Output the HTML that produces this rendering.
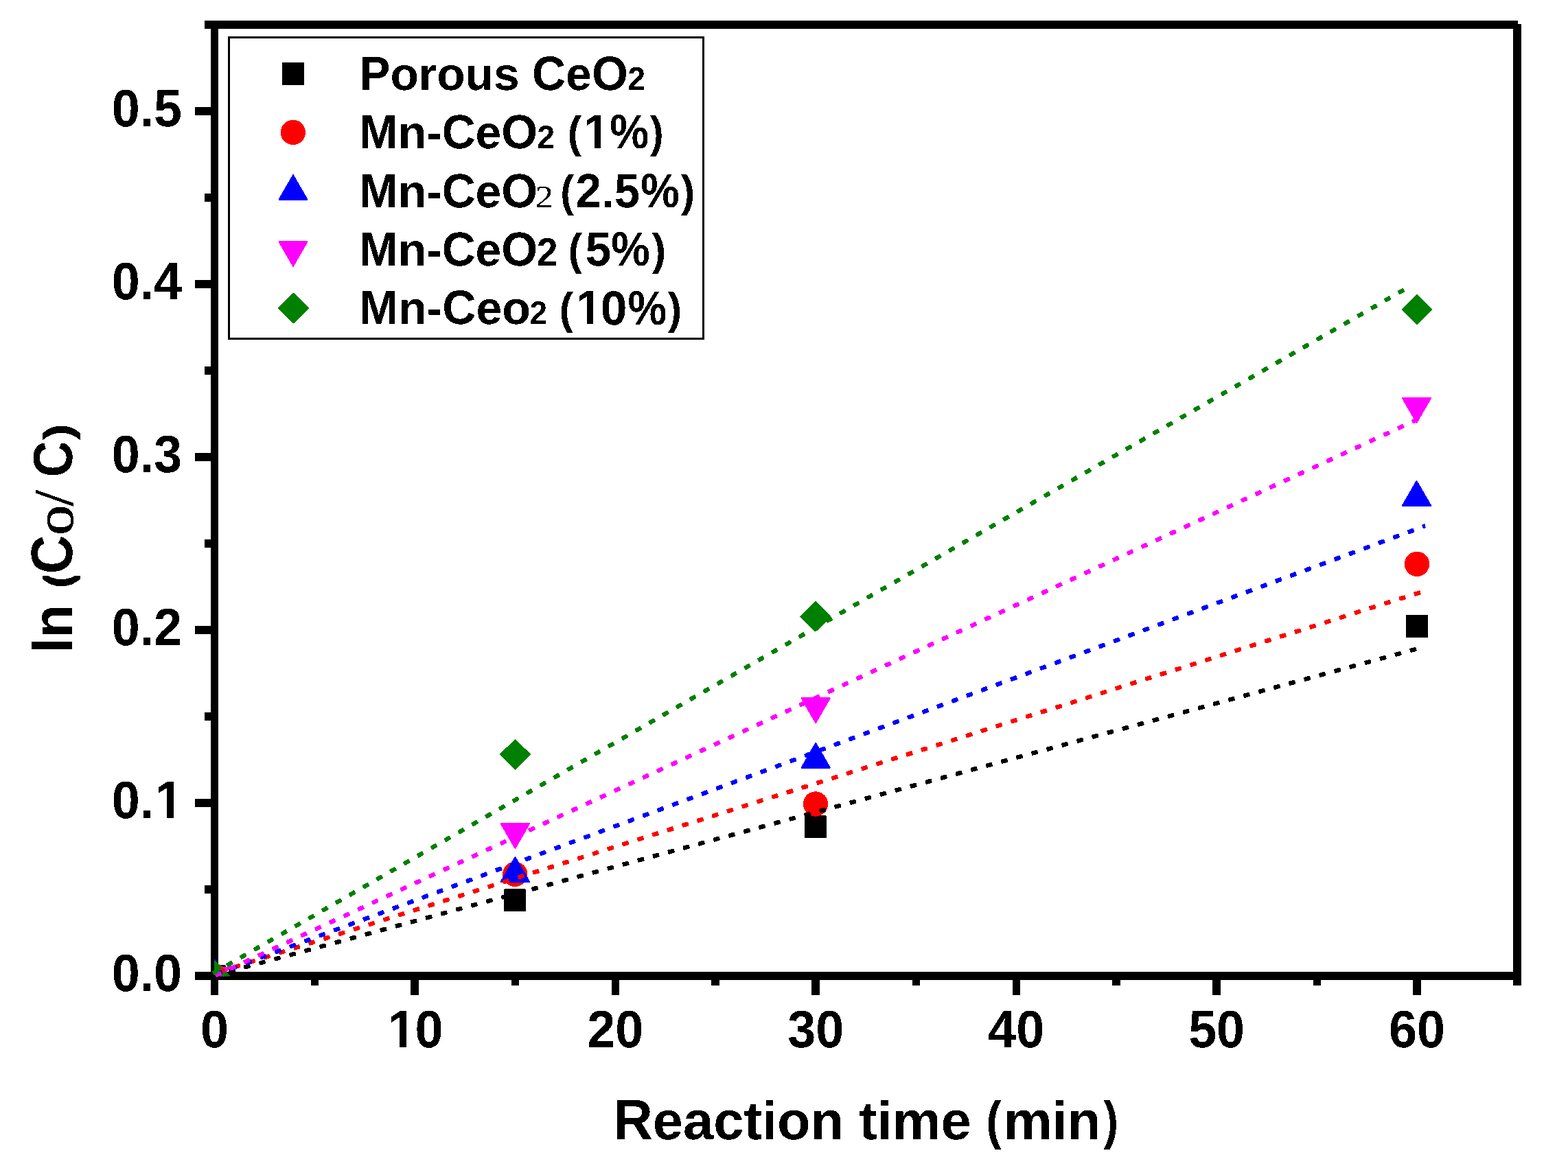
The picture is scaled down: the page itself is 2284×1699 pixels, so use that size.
<!DOCTYPE html>
<html lang="en"><head><meta charset="utf-8"><title>ln (Co/ C) versus Reaction time (min)</title>
<style>html,body{margin:0;padding:0;background:#fff;}body{width:2284px;height:1699px;overflow:hidden;}svg{display:block;}text{font-family:"Liberation Sans", Arial, Helvetica, sans-serif;font-weight:bold;fill:#000;font-kerning:none;font-variant-ligatures:none;text-rendering:geometricPrecision;white-space:pre;}</style>
</head><body>
<svg width="2284" height="1699" viewBox="0 0 2284 1699" role="img" aria-label="Kinetics plot: ln (Co/ C) versus Reaction time (min)">
<defs>
<clipPath id="plotclip"><rect x="312" y="36" width="1897.5" height="1386.6"/></clipPath>
<filter id="bin" x="0" y="0" width="2284" height="1699" filterUnits="userSpaceOnUse" color-interpolation-filters="sRGB"><feComponentTransfer><feFuncA type="discrete" tableValues="0 1"/></feComponentTransfer></filter>
</defs>
<rect x="0" y="0" width="2284" height="1699" fill="#fff"/>
<g shape-rendering="crispEdges">
<rect x="298" y="30" width="1913" height="12" fill="#000"/>
<rect x="307" y="30" width="11" height="1420" fill="#000"/>
<rect x="284" y="1416" width="1932" height="12" fill="#000"/>
<rect x="2204" y="35" width="12" height="1401" fill="#000"/>
<rect x="284" y="1416" width="24" height="12" fill="#000"/>
<rect x="284" y="1164" width="24" height="12" fill="#000"/>
<rect x="284" y="912" width="24" height="12" fill="#000"/>
<rect x="284" y="660" width="24" height="12" fill="#000"/>
<rect x="284" y="408" width="24" height="12" fill="#000"/>
<rect x="284" y="156" width="24" height="12" fill="#000"/>
<rect x="298" y="1290" width="10" height="12" fill="#000"/>
<rect x="298" y="1038" width="10" height="12" fill="#000"/>
<rect x="298" y="786" width="10" height="12" fill="#000"/>
<rect x="298" y="534" width="10" height="12" fill="#000"/>
<rect x="298" y="282" width="10" height="12" fill="#000"/>
<rect x="298" y="30" width="10" height="12" fill="#000"/>
<rect x="453" y="1427" width="11" height="9" fill="#000"/>
<rect x="598" y="1427" width="12" height="23" fill="#000"/>
<rect x="745" y="1427" width="11" height="9" fill="#000"/>
<rect x="891" y="1427" width="11" height="23" fill="#000"/>
<rect x="1036" y="1427" width="12" height="9" fill="#000"/>
<rect x="1182" y="1427" width="12" height="23" fill="#000"/>
<rect x="1329" y="1427" width="11" height="9" fill="#000"/>
<rect x="1475" y="1427" width="11" height="23" fill="#000"/>
<rect x="1620" y="1427" width="12" height="9" fill="#000"/>
<rect x="1766" y="1427" width="12" height="23" fill="#000"/>
<rect x="1913" y="1427" width="11" height="9" fill="#000"/>
<rect x="2058" y="1427" width="12" height="23" fill="#000"/>
</g>
<g shape-rendering="crispEdges">
<g clip-path="url(#plotclip)">
<rect x="296.5" y="1405.5" width="32" height="33" rx="1.5" fill="#000000"/>
<rect x="734.1" y="1295.4" width="32" height="33" rx="1.5" fill="#000000"/>
<rect x="1172" y="1188.3" width="32" height="33" rx="1.5" fill="#000000"/>
<rect x="2048" y="895.9" width="32" height="33" rx="1.5" fill="#000000"/>
<circle cx="312.5" cy="1422" r="18.2" fill="#ff0000"/>
<circle cx="750.2" cy="1273.8" r="18.2" fill="#ff0000"/>
<circle cx="1188" cy="1171.5" r="18.2" fill="#ff0000"/>
<circle cx="2064" cy="821.9" r="18.2" fill="#ff0000"/>
<path d="M312.5 1397.9L333.1 1433.6L291.9 1433.6Z" fill="#0000ff" stroke="#0000ff" stroke-width="2" stroke-linejoin="round"/>
<path d="M750.4 1249L771 1284.7L729.8 1284.7Z" fill="#0000ff" stroke="#0000ff" stroke-width="2" stroke-linejoin="round"/>
<path d="M1188.2 1082.9L1208.8 1118.6L1167.6 1118.6Z" fill="#0000ff" stroke="#0000ff" stroke-width="2" stroke-linejoin="round"/>
<path d="M2063.5 701L2084.1 736.7L2042.9 736.7Z" fill="#0000ff" stroke="#0000ff" stroke-width="2" stroke-linejoin="round"/>
<path d="M312.5 1446.1L333.1 1410.4L291.9 1410.4Z" fill="#ff00ff" stroke="#ff00ff" stroke-width="2" stroke-linejoin="round"/>
<path d="M750.4 1236L771 1200.3L729.8 1200.3Z" fill="#ff00ff" stroke="#ff00ff" stroke-width="2" stroke-linejoin="round"/>
<path d="M1188.2 1053.1L1208.8 1017.4L1167.6 1017.4Z" fill="#ff00ff" stroke="#ff00ff" stroke-width="2" stroke-linejoin="round"/>
<path d="M2063.5 615.8L2084.1 580.1L2042.9 580.1Z" fill="#ff00ff" stroke="#ff00ff" stroke-width="2" stroke-linejoin="round"/>
<path d="M312.5 1400.8L334 1422L312.5 1443.2L291 1422Z" fill="#008000" stroke="#008000" stroke-width="2" stroke-linejoin="round"/>
<path d="M750.5 1078.1L772 1099.3L750.5 1120.5L729 1099.3Z" fill="#008000" stroke="#008000" stroke-width="2" stroke-linejoin="round"/>
<path d="M1188 877.2L1209.5 898.4L1188 919.6L1166.5 898.4Z" fill="#008000" stroke="#008000" stroke-width="2" stroke-linejoin="round"/>
<path d="M2064.1 429.8L2085.6 451L2064.1 472.2L2042.6 451Z" fill="#008000" stroke="#008000" stroke-width="2" stroke-linejoin="round"/>
</g>
<line x1="312.60" y1="1421.36" x2="2061.70" y2="946.03" stroke="#000000" stroke-width="6.4" stroke-dasharray="6.600 16.260"/>
<line x1="311.15" y1="1421.75" x2="2063.15" y2="945.64" stroke="#000000" stroke-width="3.4" stroke-dasharray="9.600 13.260"/>
<line x1="313.04" y1="1423.00" x2="2062.15" y2="947.68" stroke="#000000" stroke-width="3" stroke-dasharray="6.600 16.260" stroke-linecap="round"/>
<line x1="312.15" y1="1419.71" x2="2061.26" y2="944.39" stroke="#000000" stroke-width="3" stroke-dasharray="6.600 16.260" stroke-linecap="round"/>
<line x1="320.39" y1="1415.87" x2="2067.64" y2="863.57" stroke="#ff0000" stroke-width="6.4" stroke-dasharray="6.600 16.223"/>
<line x1="318.96" y1="1416.33" x2="2069.07" y2="863.11" stroke="#ff0000" stroke-width="3.4" stroke-dasharray="9.600 13.223"/>
<line x1="320.90" y1="1417.49" x2="2068.16" y2="865.19" stroke="#ff0000" stroke-width="3" stroke-dasharray="6.600 16.223" stroke-linecap="round"/>
<line x1="319.88" y1="1414.25" x2="2067.13" y2="861.95" stroke="#ff0000" stroke-width="3" stroke-dasharray="6.600 16.223" stroke-linecap="round"/>
<line x1="316.11" y1="1418.99" x2="2076.00" y2="766.25" stroke="#0000ff" stroke-width="6.4" stroke-dasharray="6.600 16.259"/>
<line x1="314.70" y1="1419.52" x2="2076.00" y2="766.25" stroke="#0000ff" stroke-width="3.4" stroke-dasharray="9.600 13.259"/>
<line x1="316.70" y1="1420.59" x2="2074.59" y2="768.59" stroke="#0000ff" stroke-width="3" stroke-dasharray="6.600 16.259" stroke-linecap="round"/>
<line x1="315.52" y1="1417.40" x2="2074.59" y2="764.96" stroke="#0000ff" stroke-width="3" stroke-dasharray="6.600 16.259" stroke-linecap="round"/>
<line x1="315.05" y1="1420.89" x2="2064.21" y2="611.38" stroke="#ff00ff" stroke-width="6.4" stroke-dasharray="6.600 16.267"/>
<line x1="313.69" y1="1421.52" x2="2065.57" y2="610.75" stroke="#ff00ff" stroke-width="3.4" stroke-dasharray="9.600 13.267"/>
<line x1="315.77" y1="1422.43" x2="2064.92" y2="612.92" stroke="#ff00ff" stroke-width="3" stroke-dasharray="6.600 16.267" stroke-linecap="round"/>
<line x1="314.34" y1="1419.35" x2="2063.50" y2="609.84" stroke="#ff00ff" stroke-width="3" stroke-dasharray="6.600 16.267" stroke-linecap="round"/>
<line x1="311.69" y1="1417.64" x2="2043.93" y2="422.82" stroke="#008000" stroke-width="6.4" stroke-dasharray="6.600 16.285"/>
<line x1="310.39" y1="1418.39" x2="2045.23" y2="422.07" stroke="#008000" stroke-width="3.4" stroke-dasharray="9.600 13.285"/>
<line x1="312.54" y1="1419.11" x2="2044.78" y2="424.29" stroke="#008000" stroke-width="3" stroke-dasharray="6.600 16.285" stroke-linecap="round"/>
<line x1="310.85" y1="1416.17" x2="2043.09" y2="421.34" stroke="#008000" stroke-width="3" stroke-dasharray="6.600 16.285" stroke-linecap="round"/>
</g>
<g filter="url(#bin)">
<text><tspan x="162.65" y="1444.35" font-size="76.65" textLength="102.45" lengthAdjust="spacingAndGlyphs">0.0</tspan></text>
<clipPath id="tc1"><path clip-rule="evenodd" d="M0 0H2284V1699H0ZM228.65 1182.93H242.66V1194.35H228.65ZM252.88 1182.93H265.95V1194.35H252.88Z"/></clipPath>
<g clip-path="url(#tc1)"><text><tspan x="162.65" y="1192.35" font-size="76.65" textLength="61.46" lengthAdjust="spacingAndGlyphs">0.</tspan><tspan x="225.51" y="1192.35" font-size="76.65" textLength="40.99" lengthAdjust="spacingAndGlyphs">1</tspan></text></g>
<text><tspan x="162.65" y="940.35" font-size="76.65" textLength="102.45" lengthAdjust="spacingAndGlyphs">0.2</tspan></text>
<text><tspan x="162.65" y="688.35" font-size="76.65" textLength="102.45" lengthAdjust="spacingAndGlyphs">0.3</tspan></text>
<text><tspan x="162.65" y="436.35" font-size="76.65" textLength="102.45" lengthAdjust="spacingAndGlyphs">0.4</tspan></text>
<text><tspan x="162.65" y="184.35" font-size="76.65" textLength="102.45" lengthAdjust="spacingAndGlyphs">0.5</tspan></text>
<text><tspan x="292.01" y="1526.15" font-size="76.65" textLength="40.99" lengthAdjust="spacingAndGlyphs">0</tspan></text>
<clipPath id="tc2"><path clip-rule="evenodd" d="M0 0H2284V1699H0ZM567.93 1516.73H581.94V1528.15H567.93ZM592.15 1516.73H605.22V1528.15H592.15Z"/></clipPath>
<g clip-path="url(#tc2)"><text><tspan x="564.79" y="1526.15" font-size="76.65" textLength="40.99" lengthAdjust="spacingAndGlyphs">1</tspan><tspan x="604.42" y="1526.15" font-size="76.65" textLength="40.99" lengthAdjust="spacingAndGlyphs">0</tspan></text></g>
<text><tspan x="855.36" y="1526.15" font-size="76.65" textLength="81.98" lengthAdjust="spacingAndGlyphs">20</tspan></text>
<text><tspan x="1147.28" y="1526.15" font-size="76.65" textLength="81.98" lengthAdjust="spacingAndGlyphs">30</tspan></text>
<text><tspan x="1439.20" y="1526.15" font-size="76.65" textLength="81.98" lengthAdjust="spacingAndGlyphs">40</tspan></text>
<text><tspan x="1731.13" y="1526.15" font-size="76.65" textLength="81.98" lengthAdjust="spacingAndGlyphs">50</tspan></text>
<text><tspan x="2023.05" y="1526.15" font-size="76.65" textLength="81.98" lengthAdjust="spacingAndGlyphs">60</tspan></text>
<text><tspan x="893.38" y="1660.00" font-size="82.69" textLength="57.42" lengthAdjust="spacingAndGlyphs">R</tspan><tspan x="950.80" y="1660.00" font-size="78.55" textLength="486.01" lengthAdjust="spacingAndGlyphs">eaction time </tspan><tspan x="1436.56" y="1659.48" font-size="77.67" textLength="22.30" lengthAdjust="spacingAndGlyphs">(</tspan><tspan x="1461.65" y="1660.00" font-size="78.75" textLength="141.70" lengthAdjust="spacingAndGlyphs">min</tspan><tspan x="1607.34" y="1659.48" font-size="77.67" textLength="21.95" lengthAdjust="spacingAndGlyphs">)</tspan></text>
<clipPath id="tc3"><path clip-rule="evenodd" d="M0 0H2284V1699H0ZM50.00 833.00H72.00V838.80H50.00ZM104.00 833.00H122.00V838.80H104.00ZM40.00 642.40H112.00V645.80H40.00Z"/></clipPath>
<g clip-path="url(#tc3)"><text transform="rotate(-90)"><tspan x="-951.54" y="105.10" font-size="81.70" textLength="92.63" lengthAdjust="spacingAndGlyphs">ln </tspan><tspan x="-857.96" y="104.51" font-size="60.17" textLength="25.14" lengthAdjust="spacingAndGlyphs">(</tspan><tspan x="-836.21" y="104.56" font-size="85.73" textLength="56.55" lengthAdjust="spacingAndGlyphs">C</tspan><tspan x="-779.84" y="105.94" font-size="77.76" textLength="43.89" lengthAdjust="spacingAndGlyphs" style="font-family:'Liberation Serif', 'Times New Roman', Times, serif;font-weight:normal" stroke="#000" stroke-width="1" stroke-linejoin="round">o</tspan><tspan x="-737.50" y="106.01" font-size="81.32" textLength="44.27" lengthAdjust="spacingAndGlyphs" style="font-family:'Liberation Serif', 'Times New Roman', Times, serif;font-weight:normal" stroke="#000" stroke-width="0.8" stroke-linejoin="round">/ </tspan><tspan x="-695.13" y="105.31" font-size="80.81" textLength="53.30" lengthAdjust="spacingAndGlyphs">C</tspan><tspan x="-642.07" y="104.51" font-size="60.18" textLength="25.13" lengthAdjust="spacingAndGlyphs">)</tspan></text></g>
</g>
<rect x="333.5" y="54.5" width="691" height="439" fill="#fff" stroke="#000" stroke-width="3" shape-rendering="crispEdges"/>
<g shape-rendering="crispEdges">
<rect x="411" y="91" width="32" height="33" rx="1.5" fill="#000000"/>
<circle cx="426.9" cy="192.9" r="18.2" fill="#ff0000"/>
<path d="M427 255.3L447.6 291L406.4 291Z" fill="#0000ff" stroke="#0000ff" stroke-width="2" stroke-linejoin="round"/>
<path d="M427 387.7L447.6 352L406.4 352Z" fill="#ff00ff" stroke="#ff00ff" stroke-width="2" stroke-linejoin="round"/>
<path d="M427.6 427.8L449.1 449L427.6 470.2L406.1 449Z" fill="#008000" stroke="#008000" stroke-width="2" stroke-linejoin="round"/>
</g>
<g filter="url(#bin)">
<text><tspan x="523.27" y="131.10" font-size="69.79" textLength="45.19" lengthAdjust="spacingAndGlyphs">P</tspan><tspan x="568.46" y="131.10" font-size="66.94" textLength="207.04" lengthAdjust="spacingAndGlyphs">orous </tspan><tspan x="775.01" y="131.10" font-size="70.05" textLength="49.12" lengthAdjust="spacingAndGlyphs">C</tspan><tspan x="824.13" y="131.10" font-size="67.20" textLength="37.83" lengthAdjust="spacingAndGlyphs">e</tspan><tspan x="861.95" y="131.10" font-size="70.05" textLength="52.90" lengthAdjust="spacingAndGlyphs">O</tspan><tspan x="914.29" y="131.10" font-size="47.69" textLength="25.88" lengthAdjust="spacingAndGlyphs">2</tspan></text>
<clipPath id="tc4"><path clip-rule="evenodd" d="M0 0H2284V1699H0ZM852.68 207.15H865.72V217.90H852.68ZM875.15 207.15H887.32V217.90H875.15Z"/></clipPath>
<g clip-path="url(#tc4)"><text><tspan x="523.27" y="215.90" font-size="69.78" textLength="56.43" lengthAdjust="spacingAndGlyphs">M</tspan><tspan x="579.70" y="215.90" font-size="66.93" textLength="63.94" lengthAdjust="spacingAndGlyphs">n-</tspan><tspan x="643.65" y="215.90" font-size="69.78" textLength="48.93" lengthAdjust="spacingAndGlyphs">C</tspan><tspan x="692.57" y="215.90" font-size="66.93" textLength="37.68" lengthAdjust="spacingAndGlyphs">e</tspan><tspan x="730.25" y="215.90" font-size="69.78" textLength="52.70" lengthAdjust="spacingAndGlyphs">O</tspan><tspan x="782.19" y="215.90" font-size="47.40" textLength="38.80" lengthAdjust="spacingAndGlyphs">2 </tspan><tspan x="826.65" y="215.11" font-size="65.01" textLength="20.41" lengthAdjust="spacingAndGlyphs">(</tspan><tspan x="849.90" y="215.90" font-size="70.04" textLength="37.82" lengthAdjust="spacingAndGlyphs">1</tspan><tspan x="888.30" y="216.15" font-size="70.64" textLength="56.99" lengthAdjust="spacingAndGlyphs">%</tspan><tspan x="946.84" y="215.11" font-size="65.01" textLength="19.94" lengthAdjust="spacingAndGlyphs">)</tspan></text></g>
<text><tspan x="523.27" y="302.00" font-size="69.78" textLength="56.43" lengthAdjust="spacingAndGlyphs">M</tspan><tspan x="579.70" y="302.00" font-size="66.93" textLength="63.94" lengthAdjust="spacingAndGlyphs">n-</tspan><tspan x="643.65" y="302.00" font-size="69.78" textLength="48.93" lengthAdjust="spacingAndGlyphs">C</tspan><tspan x="692.57" y="302.00" font-size="66.93" textLength="37.68" lengthAdjust="spacingAndGlyphs">e</tspan><tspan x="730.25" y="302.00" font-size="69.78" textLength="52.70" lengthAdjust="spacingAndGlyphs">O</tspan><tspan x="779.55" y="301.90" font-size="45.46" textLength="40.04" lengthAdjust="spacingAndGlyphs" style="font-family:'Liberation Serif', 'Times New Roman', Times, serif;font-weight:normal">2 </tspan><tspan x="816.32" y="301.21" font-size="65.01" textLength="19.94" lengthAdjust="spacingAndGlyphs">(</tspan><tspan x="838.57" y="302.00" font-size="70.03" textLength="37.43" lengthAdjust="spacingAndGlyphs">2</tspan><tspan x="876.28" y="302.00" font-size="62.45" textLength="18.11" lengthAdjust="spacingAndGlyphs">.</tspan><tspan x="894.96" y="302.12" font-size="70.08" textLength="36.89" lengthAdjust="spacingAndGlyphs">5</tspan><tspan x="933.22" y="302.25" font-size="70.64" textLength="56.56" lengthAdjust="spacingAndGlyphs">%</tspan><tspan x="991.74" y="301.21" font-size="65.01" textLength="20.41" lengthAdjust="spacingAndGlyphs">)</tspan></text>
<text><tspan x="523.27" y="387.00" font-size="69.78" textLength="56.43" lengthAdjust="spacingAndGlyphs">M</tspan><tspan x="579.70" y="387.00" font-size="66.93" textLength="63.94" lengthAdjust="spacingAndGlyphs">n-</tspan><tspan x="643.65" y="387.00" font-size="69.78" textLength="48.93" lengthAdjust="spacingAndGlyphs">C</tspan><tspan x="692.57" y="387.00" font-size="66.93" textLength="37.68" lengthAdjust="spacingAndGlyphs">e</tspan><tspan x="730.25" y="387.00" font-size="69.78" textLength="52.70" lengthAdjust="spacingAndGlyphs">O</tspan><tspan x="781.90" y="386.90" font-size="57.57" textLength="45.73" lengthAdjust="spacingAndGlyphs">2 </tspan><tspan x="827.76" y="386.21" font-size="65.01" textLength="20.29" lengthAdjust="spacingAndGlyphs">(</tspan><tspan x="852.63" y="387.12" font-size="70.08" textLength="37.45" lengthAdjust="spacingAndGlyphs">5</tspan><tspan x="890.32" y="387.25" font-size="70.64" textLength="56.56" lengthAdjust="spacingAndGlyphs">%</tspan><tspan x="949.54" y="386.21" font-size="65.01" textLength="20.65" lengthAdjust="spacingAndGlyphs">)</tspan></text>
<clipPath id="tc5"><path clip-rule="evenodd" d="M0 0H2284V1699H0ZM841.88 463.65H854.92V474.40H841.88ZM864.35 463.65H876.52V474.40H864.35Z"/></clipPath>
<g clip-path="url(#tc5)"><text><tspan x="523.25" y="472.40" font-size="70.13" textLength="56.72" lengthAdjust="spacingAndGlyphs">M</tspan><tspan x="579.96" y="472.40" font-size="67.27" textLength="64.27" lengthAdjust="spacingAndGlyphs">n-</tspan><tspan x="644.23" y="472.40" font-size="70.13" textLength="49.17" lengthAdjust="spacingAndGlyphs">C</tspan><tspan x="693.40" y="472.40" font-size="67.27" textLength="79.46" lengthAdjust="spacingAndGlyphs">eo</tspan><tspan x="771.40" y="471.90" font-size="47.40" textLength="38.46" lengthAdjust="spacingAndGlyphs">2 </tspan><tspan x="814.86" y="471.61" font-size="65.01" textLength="20.29" lengthAdjust="spacingAndGlyphs">(</tspan><tspan x="839.10" y="472.40" font-size="70.04" textLength="37.82" lengthAdjust="spacingAndGlyphs">1</tspan><tspan x="874.65" y="472.51" font-size="70.20" textLength="38.71" lengthAdjust="spacingAndGlyphs">0</tspan><tspan x="914.51" y="472.65" font-size="70.64" textLength="56.67" lengthAdjust="spacingAndGlyphs">%</tspan><tspan x="972.84" y="471.61" font-size="65.01" textLength="20.41" lengthAdjust="spacingAndGlyphs">)</tspan></text></g>
</g>
</svg>
</body></html>
